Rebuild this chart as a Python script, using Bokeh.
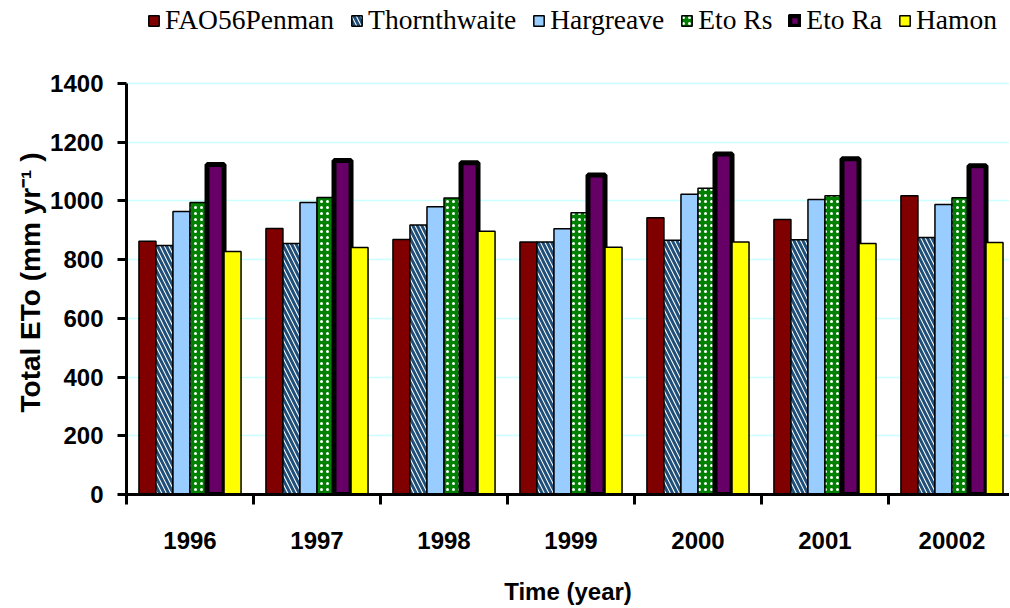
from bokeh.plotting import figure
from bokeh.models import (ColumnDataSource, FixedTicker, Legend, LegendItem, Title)
from bokeh.transform import dodge
from bokeh.embed import file_html
from bokeh.resources import INLINE

years = ["1996", "1997", "1998", "1999", "2000", "2001", "20002"]
fao56 = [863, 906, 869, 860, 943, 937, 1018]
thornthwaite = [848, 855, 918, 860, 866, 868, 875]
hargreave = [964, 995, 980, 905, 1023, 1005, 988]
eto_rs = [995, 1012, 1010, 960, 1043, 1018, 1011]
eto_ra = [1124, 1138, 1130, 1088, 1160, 1144, 1120]
hamon = [828, 841, 897, 842, 860, 855, 858]

series_names = ["FAO56Penman", "Thornthwaite", "Hargreave", "Eto Rs", "Eto Ra", "Hamon"]

src = ColumnDataSource(dict(
    pos=[i + 0.5 for i in range(len(years))],
    fao56=fao56, thornthwaite=thornthwaite, hargreave=hargreave,
    eto_rs=eto_rs, eto_ra=eto_ra, hamon=hamon,
))

# frame spans whole figure height; axis/grid bounded to 0..1400
p = figure(width=1009, height=607, x_range=(0, 6.953), y_range=(0, 1682.7),
           output_backend="svg", toolbar_location=None,
           min_border_left=126, min_border_right=0, min_border_top=0,
           min_border_bottom=113)
p.outline_line_color = None
p.background_fill_color = "white"
p.border_fill_color = "white"

bw = 0.134
offsets = [(-2.5 + k) * bw for k in range(6)]

styles = [
    dict(field="fao56", fill_color="#800000", line_color="black", line_width=1.5),
    dict(field="thornthwaite", fill_color="white", line_color="black", line_width=1.5,
         hatch_pattern="left_diagonal_line", hatch_color="#1F4E79", hatch_scale=9, hatch_weight=3),
    dict(field="hargreave", fill_color="#99CCFF", line_color="black", line_width=1.5),
    dict(field="eto_rs", fill_color="#008000", line_color="black", line_width=1.5,
         hatch_pattern="dot", hatch_color="white", hatch_scale=6, hatch_weight=2),
    dict(field="eto_ra", fill_color="#660066", line_color="black", line_width=5),
    dict(field="hamon", fill_color="#FFFF00", line_color="black", line_width=1.5),
]

items = []
for name, off, st in zip(series_names, offsets, styles):
    st = dict(st)
    field = st.pop("field")
    r = p.vbar(x=dodge("pos", off), top=field, width=bw, bottom=0, source=src, **st)
    items.append(LegendItem(label=name, renderers=[r]))

legend = Legend(items=items, orientation="horizontal", location=(21, 458),
                label_text_font="Liberation Serif", label_text_font_size="27.5px",
                label_text_color="black", glyph_width=13, glyph_height=13,
                label_standoff=5, spacing=16, padding=0, margin=0,
                border_line_color=None, background_fill_alpha=0)
p.add_layout(legend, "center")

# x axis: labels at centers, ticks at category boundaries
p.xaxis.ticker = FixedTicker(ticks=[i + 0.5 for i in range(len(years))],
                             minor_ticks=list(range(len(years) + 1)))
p.xaxis.major_label_overrides = {i + 0.5: y for i, y in enumerate(years)}
p.xaxis.major_tick_out = 0
p.xaxis.major_tick_in = 0
p.xaxis.minor_tick_out = 10
p.xaxis.minor_tick_in = 0
p.xaxis.minor_tick_line_width = 3
p.xaxis.minor_tick_line_color = "black"
p.xaxis.axis_label = "Time (year)"
p.xaxis.major_label_standoff = 27

p.yaxis.ticker = FixedTicker(ticks=list(range(0, 1401, 200)))
p.yaxis.bounds = (0, 1400)
p.yaxis.major_tick_out = 9
p.yaxis.major_tick_in = 0
p.yaxis.minor_tick_out = 0
p.yaxis.minor_tick_in = 0
p.yaxis.major_label_standoff = 14

for ax in (p.xaxis, p.yaxis):
    ax.axis_line_width = 3
    ax.axis_line_color = "black"
    ax.major_tick_line_width = 3
    ax.major_tick_line_color = "black"
    ax.major_label_text_font = "Liberation Sans"
    ax.major_label_text_font_style = "bold"
    ax.major_label_text_font_size = "24px"
    ax.major_label_text_color = "black"
    ax.axis_label_text_font = "Liberation Sans"
    ax.axis_label_text_font_style = "bold"
    ax.axis_label_text_font_size = "24px"
    ax.axis_label_text_color = "black"

p.xaxis.axis_label_standoff = 26

ytitle = Title(text="Total ETo (mm yr\u207b\u00b9 )", align="left", offset=82,
               text_font="Liberation Sans", text_font_style="bold",
               text_font_size="28px", text_color="black", standoff=4)
p.add_layout(ytitle, "left")

p.xgrid.grid_line_color = None
p.ygrid.ticker = FixedTicker(ticks=list(range(200, 1401, 200)))
p.ygrid.grid_line_color = "#CCFFFF"
p.ygrid.grid_line_width = 1.5

open("out.html", "w").write(file_html(p, INLINE))
